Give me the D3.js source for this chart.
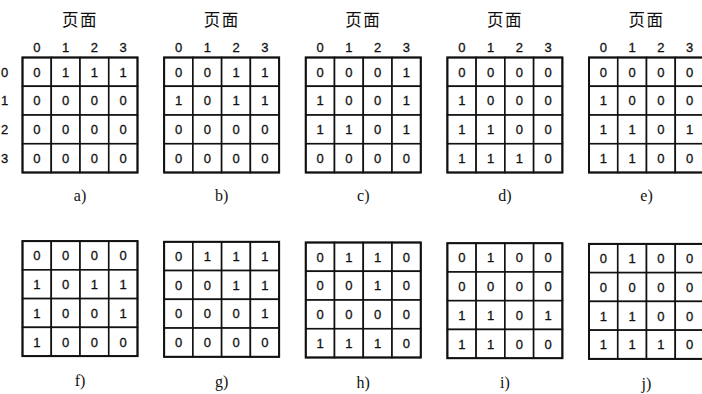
<!DOCTYPE html>
<html><head><meta charset="utf-8">
<script src="https://cdn.jsdelivr.net/npm/d3@7"></script>
<style>body{margin:0;background:#fff}svg{display:block}</style>
</head><body>
<script>
const panelLabels = ["a)","b)","c)","d)","e)","f)","g)","h)","i)","j)"];
const pageIndex = [0,1,2,3];
const titleText = "页面";
const matrices = [
  [[0,1,1,1],[0,0,0,0],[0,0,0,0],[0,0,0,0]],
  [[0,0,1,1],[1,0,1,1],[0,0,0,0],[0,0,0,0]],
  [[0,0,0,1],[1,0,0,1],[1,1,0,1],[0,0,0,0]],
  [[0,0,0,0],[1,0,0,0],[1,1,0,0],[1,1,1,0]],
  [[0,0,0,0],[1,0,0,0],[1,1,0,1],[1,1,0,0]],
  [[0,0,0,0],[1,0,1,1],[1,0,0,1],[1,0,0,0]],
  [[0,1,1,1],[0,0,1,1],[0,0,0,1],[0,0,0,0]],
  [[0,1,1,0],[0,0,1,0],[0,0,0,0],[1,1,1,0]],
  [[0,1,0,0],[0,0,0,0],[1,1,0,1],[1,1,0,0]],
  [[0,1,0,0],[0,0,0,0],[1,1,0,0],[1,1,1,0]]
];

const W = 702, H = 394;
const svg = d3.select("body").append("svg").attr("width", W).attr("height", H);

const panelX = d3.scaleLinear().domain([0,4]).range([22.5, 589]);
const panelY = d3.scaleOrdinal().domain([0,1]).range([57.5, 242.5]);
const grid = 115;
const cx = d3.scaleBand().domain(pageIndex).range([0, grid]);
const cy = d3.scaleBand().domain(pageIndex).range([0, grid]);
const numFont = "Liberation Sans, Arial, sans-serif";

matrices.forEach((m, k) => {
  const col = k % 5, row = Math.floor(k / 5);
  const g = svg.append("g").attr("transform", `translate(${panelX(col)},${panelY(row) + (row === 1 ? col * 0.7 - 1.4 : 0)})`);
  const cells = [];
  m.forEach((r, i) => r.forEach((v, j) => cells.push({i, j, v})));
  g.selectAll("rect.cell").data(cells).join("rect")
    .attr("x", d => cx(d.j)).attr("y", d => cy(d.i))
    .attr("width", cx.bandwidth()).attr("height", cy.bandwidth())
    .attr("fill", "#fff").attr("stroke", "#111").attr("stroke-width", 1.6);
  g.append("rect").attr("width", grid).attr("height", grid)
    .attr("fill", "none").attr("stroke", "#111").attr("stroke-width", 2);
  g.selectAll("text.v").data(cells).join("text")
    .attr("x", d => cx(d.j) + cx.bandwidth()/2)
    .attr("y", d => cy(d.i) + cy.bandwidth()/2 + 4.8)
    .attr("text-anchor", "middle")
    .attr("font-family", numFont)
    .attr("font-size", 13).attr("fill", "#111")
    .attr("stroke", "#111").attr("stroke-width", 0.3)
    .text(d => d.v);
  g.append("text").attr("x", grid/2).attr("y", row === 0 ? 143 : 145)
    .attr("text-anchor", "middle")
    .attr("font-family", "Liberation Serif, Times New Roman, serif")
    .attr("font-size", 16).attr("fill", "#111")
    .text(panelLabels[k]);
  if (row === 0) {
    g.append("text").attr("x", grid/2).attr("y", -32)
      .attr("text-anchor", "middle")
      .attr("font-family", "Noto Sans CJK SC, sans-serif")
      .attr("font-size", 16.5).attr("letter-spacing", 1.5).attr("fill", "#111")
      .text(titleText);
    g.selectAll("text.h").data(pageIndex).join("text")
      .attr("x", d => cx(d) + cx.bandwidth()/2).attr("y", -6)
      .attr("text-anchor", "middle")
      .attr("font-family", numFont)
      .attr("font-size", 13).attr("fill", "#111")
      .attr("stroke", "#111").attr("stroke-width", 0.3)
      .text(d => d);
    if (col === 0) {
      g.selectAll("text.r").data(pageIndex).join("text")
        .attr("x", -18).attr("y", d => cy(d) + cy.bandwidth()/2 + 4.8)
        .attr("text-anchor", "middle")
        .attr("font-family", numFont)
        .attr("font-size", 13).attr("fill", "#111")
        .attr("stroke", "#111").attr("stroke-width", 0.3)
        .text(d => d);
    }
  }
});
</script>
</body></html>
